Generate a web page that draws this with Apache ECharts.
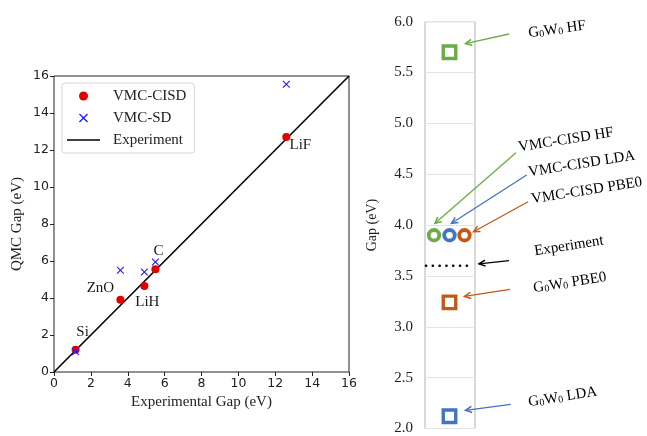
<!DOCTYPE html>
<html>
<head>
<meta charset="utf-8">
<script src="https://cdn.jsdelivr.net/npm/echarts@6/dist/echarts.min.js"></script>
<style>
  html, body { margin: 0; padding: 0; background: #fff; }
  #chart { width: 647px; height: 436px; }
</style>
</head>
<body>
<div id="chart"></div>
<script>
// ---- left panel: QMC gap vs experimental gap ----
const compounds = ['Si', 'ZnO', 'LiH', 'C', 'LiF'];
const expGap = [1.17, 3.6, 4.9, 5.5, 12.6];
const cisdGap = [1.2, 3.9, 4.65, 5.55, 12.7];
const sdGap = [1.1, 5.5, 5.4, 5.95, 15.55];
const diagonal = [0, 16];
// label offsets (px) for each compound name
const labelOffsets = [[7, -18], [-20, -12], [3, 16], [3, -18], [14, 8]];

// ---- right panel: gap of one system by method ----
const gapTicks = ['2.0', '2.5', '3.0', '3.5', '4.0', '4.5', '5.0', '5.5', '6.0'];
const g0w0HF = 5.7;
const vmcHF = 3.9;
const vmcLDA = 3.9;
const vmcPBE0 = 3.9;
const experiment = 3.6;
const g0w0PBE0 = 3.24;
const g0w0LDA = 2.12;
// horizontal slot of each mark in the narrow panel (0..10)
const slotLeft = 1.8, slotMid = 4.9, slotRight = 7.9;

const GREEN = '#6aac45', BLUE = '#4472C4', BROWN = '#C25A16';
const SERIF = '"Liberation Serif", "DejaVu Serif", serif';
const SANS = '"DejaVu Sans", sans-serif';
const CROSS = 'path://M1,0L5,4L9,0L10,1L6,5L10,9L9,10L5,6L1,10L0,9L4,5L0,1Z';

const chart = echarts.init(document.getElementById('chart'), null, { renderer: 'canvas' });

const hollow = (color, symbol, size, width) => ({
  type: 'scatter', xAxisIndex: 1, yAxisIndex: 1, symbol: symbol, symbolSize: size,
  itemStyle: { color: '#fff', borderColor: color, borderWidth: width, opacity: 1 },
  emphasis: { disabled: true }, z: 5
});

const option = {
  backgroundColor: '#fff',
  animation: false,
  grid: [
    { left: 54, top: 76, width: 295, height: 296, show: true, borderColor: '#222', borderWidth: 1, backgroundColor: 'transparent' },
    { left: 425, top: 21.7, width: 50, height: 409, show: true, borderColor: '#b4b4b4', borderWidth: 1, backgroundColor: 'transparent' }
  ],
  xAxis: [
    {
      gridIndex: 0, type: 'value', min: 0, max: 16, interval: 2,
      name: 'Experimental Gap (eV)', nameLocation: 'middle', nameGap: 23,
      nameTextStyle: { fontFamily: SERIF, fontSize: 15, color: '#222' },
      axisLine: { show: false },
      axisTick: { show: true, length: 4, lineStyle: { color: '#222' } },
      axisLabel: { fontFamily: SANS, fontSize: 12.5, color: '#222', margin: 5 },
      splitLine: { show: false }
    },
    {
      gridIndex: 1, type: 'value', min: 0, max: 10, show: false
    }
  ],
  yAxis: [
    {
      gridIndex: 0, type: 'value', min: 0, max: 16, interval: 2,
      name: 'QMC Gap (eV)', nameLocation: 'middle', nameGap: 29,
      nameTextStyle: { fontFamily: SERIF, fontSize: 15, color: '#222' },
      axisLine: { show: false },
      axisTick: { show: true, length: 4, lineStyle: { color: '#222' } },
      axisLabel: { fontFamily: SANS, fontSize: 12.5, color: '#222', margin: 5 },
      splitLine: { show: false }
    },
    {
      gridIndex: 1, type: 'value', min: 2, max: 6, interval: 0.5,
      name: 'Gap (eV)', nameLocation: 'middle', nameGap: 46,
      nameTextStyle: { fontFamily: SERIF, fontSize: 14, color: '#222' },
      axisLine: { show: false },
      axisTick: { show: false },
      axisLabel: {
        fontFamily: SERIF, fontSize: 15, color: '#222', margin: 12,
        formatter: (v) => gapTicks[Math.round((v - 2) / 0.5)]
      },
      splitLine: { show: true, lineStyle: { color: '#e3e3e3', width: 1 } }
    }
  ],
  legend: {
    left: 62, top: 83, orient: 'vertical',
    padding: [4, 8, 4, 5], itemGap: 4,
    itemWidth: 33, itemHeight: 9, symbolKeepAspect: true,
    borderColor: '#d6d6d6', borderWidth: 1, borderRadius: 3,
    backgroundColor: '#fff',
    textStyle: { fontFamily: SERIF, fontSize: 15, color: '#222', padding: [0, 0, 0, 8], lineHeight: 18 },
    data: [
      { name: 'VMC-CISD' },
      { name: 'VMC-SD' },
      { name: 'Experiment', icon: 'path://M0,0H33V1.6H0Z', itemStyle: { color: '#000' } }
    ]
  },
  series: [
    {
      name: 'Experiment', type: 'line', xAxisIndex: 0, yAxisIndex: 0,
      data: diagonal.map(v => [v, v]), symbol: 'none',
      itemStyle: { color: '#000' },
      lineStyle: { color: '#000', width: 1.6 }, z: 2, emphasis: { disabled: true }
    },
    {
      name: 'VMC-CISD', type: 'scatter', xAxisIndex: 0, yAxisIndex: 0,
      symbol: 'circle', symbolSize: 8,
      itemStyle: { color: '#e00000', opacity: 1 }, z: 3, emphasis: { disabled: true },
      data: compounds.map((c, i) => ({
        name: c, value: [expGap[i], cisdGap[i]],
        label: {
          show: true, position: 'inside', offset: labelOffsets[i],
          formatter: c, fontFamily: SERIF, fontSize: 15, color: '#1a1a1a'
        }
      }))
    },
    {
      name: 'VMC-SD', type: 'scatter', xAxisIndex: 0, yAxisIndex: 0,
      symbol: CROSS, symbolSize: 7.5, symbolKeepAspect: true,
      itemStyle: { color: '#1a1aff', opacity: 1 }, z: 4, emphasis: { disabled: true },
      data: compounds.map((c, i) => [expGap[i], sdGap[i]])
    },
    Object.assign(hollow(GREEN, 'rect', 12.5, 3.4), { name: 'G0W0 HF', data: [[slotMid, g0w0HF]] }),
    Object.assign(hollow(GREEN, 'circle', 10.5, 3.8), { name: 'VMC-CISD HF', data: [[slotLeft, vmcHF]] }),
    Object.assign(hollow(BLUE, 'circle', 10.5, 3.8), { name: 'VMC-CISD LDA', data: [[slotMid, vmcLDA]] }),
    Object.assign(hollow(BROWN, 'circle', 10.5, 3.8), { name: 'VMC-CISD PBE0', data: [[slotRight, vmcPBE0]] }),
    {
      name: 'Experiment gap', type: 'line', xAxisIndex: 1, yAxisIndex: 1,
      data: [[0.2, experiment], [9.6, experiment]], symbol: 'none',
      lineStyle: { color: '#000', width: 2.6, type: [0.1, 6.7], cap: 'round' },
      emphasis: { disabled: true }, z: 4
    },
    Object.assign(hollow(BROWN, 'rect', 12.5, 3.4), { name: 'G0W0 PBE0', data: [[slotMid, g0w0PBE0]] }),
    Object.assign(hollow(BLUE, 'rect', 12.5, 3.4), { name: 'G0W0 LDA', data: [[slotMid, g0w0LDA]] })
  ]
};
chart.setOption(option);

// ---- annotations: rotated method names with arrows pointing at their marks ----
const gw = (rest) => `{n|G}{s|0}{n|W}{s|0}{n| ${rest}}`;
const annotations = [
  { text: gw('HF'), color: GREEN, at: [slotMid, g0w0HF], tip: [16, -8.5], tail: [509, 34], label: [528, 31], rot: 8 },
  { text: '{n|VMC-CISD HF}', color: GREEN, at: [slotLeft, vmcHF], tip: [1, -12], tail: [516, 152.7], label: [518, 145], rot: 9 },
  { text: '{n|VMC-CISD LDA}', color: BLUE, at: [slotMid, vmcLDA], tip: [2, -12], tail: [526.7, 175], label: [528, 170], rot: 9 },
  { text: '{n|VMC-CISD PBE0}', color: BROWN, at: [slotRight, vmcPBE0], tip: [9, -3.5], tail: [528, 201.7], label: [531, 197], rot: 9 },
  { text: '{n|Experiment}', color: '#000', at: [9.6, experiment], tip: [6, -2], tail: [509, 260.7], label: [534, 249], rot: 9 },
  { text: gw('PBE0'), color: BROWN, at: [slotMid, g0w0PBE0], tip: [15, -6], tail: [510, 289.3], label: [533, 286], rot: 9 },
  { text: gw('LDA'), color: BLUE, at: [slotMid, g0w0LDA], tip: [16, -6], tail: [510.7, 404.3], label: [528, 400], rot: 9 }
];

const graphics = [];
annotations.forEach((a) => {
  const p = chart.convertToPixel({ gridIndex: 1 }, a.at);
  const tip = [p[0] + a.tip[0], p[1] + a.tip[1]];
  const dx = a.tail[0] - tip[0], dy = a.tail[1] - tip[1];
  const len = Math.hypot(dx, dy);
  const ux = dx / len, uy = dy / len;
  const head = 7, spread = 0.45;
  const h1 = [tip[0] + head * (ux * Math.cos(spread) - uy * Math.sin(spread)),
              tip[1] + head * (uy * Math.cos(spread) + ux * Math.sin(spread))];
  const h2 = [tip[0] + head * (ux * Math.cos(-spread) - uy * Math.sin(-spread)),
              tip[1] + head * (uy * Math.cos(-spread) + ux * Math.sin(-spread))];
  graphics.push({
    type: 'polyline', silent: true, z: 10,
    shape: { points: [a.tail, tip] },
    style: { stroke: a.color, lineWidth: 1.3, fill: null }
  });
  graphics.push({
    type: 'polyline', silent: true, z: 10,
    shape: { points: [h1, tip, h2] },
    style: { stroke: a.color, lineWidth: 1.5, fill: null }
  });
  graphics.push({
    type: 'text', silent: true, z: 10,
    x: a.label[0], y: a.label[1], rotation: a.rot * Math.PI / 180,
    style: {
      text: a.text, textAlign: 'left', textVerticalAlign: 'middle',
      rich: {
        n: { fontFamily: SERIF, fontSize: 15, color: '#111', lineHeight: 20, verticalAlign: 'bottom' },
        s: { fontFamily: SERIF, fontSize: 10, color: '#111', lineHeight: 10, verticalAlign: 'bottom' }
      }
    }
  });
});
chart.setOption({ graphic: graphics });
</script>
</body>
</html>
